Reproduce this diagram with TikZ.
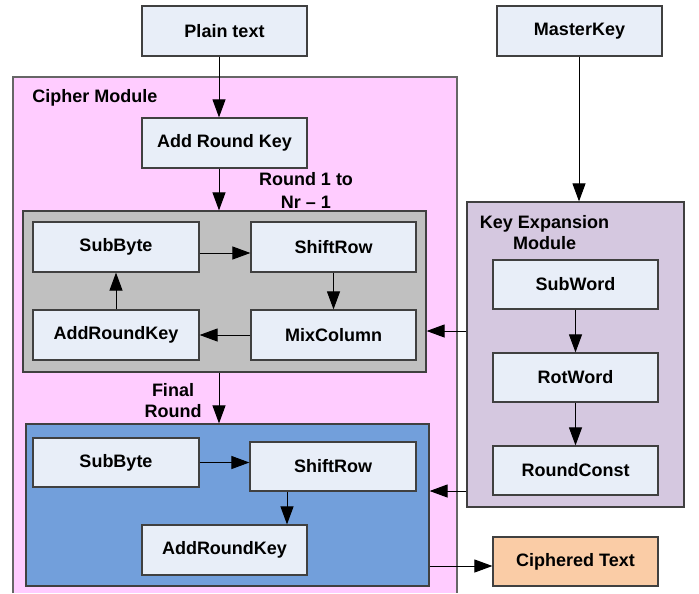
\documentclass[tikz,border=0pt]{standalone}
\usepackage{fontspec}
\setmainfont{Liberation Sans}
\usetikzlibrary{arrows.meta}
\definecolor{pinkbg}{HTML}{FFCCFF}
\definecolor{graybg}{HTML}{C0C0C0}
\definecolor{bluebg}{HTML}{729FDB}
\definecolor{boxbg}{HTML}{E8EEF8}
\definecolor{keybg}{HTML}{D5C8E0}
\definecolor{peach}{HTML}{FACCA6}
\definecolor{edge}{HTML}{404040}
\tikzset{
  every node/.style={font=\fontsize{9}{10.5}\selectfont\bfseries},
  box/.style={draw=edge, line width=0.6pt, fill=boxbg, rectangle, inner sep=0pt,
    minimum width=82.5pt, minimum height=25pt},
  group/.style={draw=edge, line width=0.6pt, rectangle, inner sep=0pt},
  lbl/.style={align=center, inner sep=0pt},
  arr/.style={line width=0.5pt, -{Triangle[length=9pt,width=6.5pt]}},
}
\begin{document}
\begin{tikzpicture}[x=0.5pt,y=-0.5pt]
\useasboundingbox (0,0) rectangle (699,593);
% pink cipher module
\fill[pinkbg] (13,593) -- (13,77) -- (457,77) -- (457,593) -- cycle;
\draw[draw=gray!80!black, line width=0.8pt] (13,593) -- (13,77) -- (457,77) -- (457,593);
\node[lbl, anchor=west] (cm) at (32,98) {Cipher Module};

% top inputs
\node[box] (plain) at (224.5,31) {Plain text};
\node[box] (master) at (579.5,31) {MasterKey};
\node[box] (ark) at (224.5,143) {Add Round Key};

% round group
\node[group, fill=graybg, minimum width=201.5pt, minimum height=80.5pt] (gray) at (224.5,291.5) {};
\node[box, minimum width=83pt] (sb1) at (116,247) {SubByte};
\node[box] (sr1) at (333.5,247) {ShiftRow};
\node[box, minimum width=83pt] (ark1) at (116,335) {AddRoundKey};
\node[box] (mc1) at (333.5,335) {MixColumn};
\node[lbl, font=\fontsize{9}{11.5}\selectfont\bfseries] (rl) at (306,190.5) {Round 1 to\\Nr – 1};

% final round group
\node[lbl] (fl) at (173,400.5) {Final\\Round};
\node[group, fill=bluebg, minimum width=201.5pt, minimum height=81pt] (blue) at (227.5,505) {};
\node[box, minimum width=83pt, minimum height=24.5pt] (sb2) at (116,462.5) {SubByte};
\node[box, minimum width=83pt, minimum height=24.5pt] (sr2) at (333,466.5) {ShiftRow};
\node[box] (ark2) at (224.5,550) {AddRoundKey};

% key expansion
\node[group, fill=keybg, minimum width=108.5pt, minimum height=152.5pt] (kexp) at (575.5,354.5) {};
\node[lbl] (kl) at (544.5,232.5) {Key Expansion\\Module};
\node[box, minimum height=24.5pt] (subw) at (575.5,284.5) {SubWord};
\node[box, minimum height=24.5pt] (rotw) at (575.5,377.5) {RotWord};
\node[box, minimum height=24.5pt] (rcon) at (575.5,470.5) {RoundConst};

% output
\node[box, fill=peach, minimum height=24.5pt] (ciph) at (575.5,561.5) {Ciphered Text};

% helper coordinates
\coordinate (cx) at (219,0);
\coordinate (y1) at (0,253);
\coordinate (y2) at (0,331);
\coordinate (y3) at (0,491);
\coordinate (y4) at (0,566);
\coordinate (x2) at (287,0);
\coordinate (kx) at (579,0);

% connectors
\draw[arr] (plain.south -| cx) -- (ark.north -| cx);
\draw[arr] (ark.south -| cx) -- (gray.north -| cx);
\draw[arr] (gray.south -| cx) -- (blue.north -| cx);
\draw[arr] (master.south -| kx) -- (kexp.north -| kx);

\draw[arr] (sb1.east |- y1) -- (sr1.west |- y1);
\draw[arr] (sr1.south) -- (mc1.north);
\draw[arr] (mc1.west) -- (ark1.east);
\draw[arr] (ark1.north) -- (sb1.south);

\draw[arr] (sb2.east) -- (sr2.west |- sb2.east);
\draw[arr] (sr2.south -| x2) -- (ark2.north -| x2);

\draw[arr] (subw.south) -- (rotw.north);
\draw[arr] (rotw.south) -- (rcon.north);

\draw[arr] (kexp.west |- y2) -- (gray.east |- y2);
\draw[arr] (kexp.west |- y3) -- (blue.east |- y3);
\draw[arr] (blue.east |- y4) -- (ciph.west |- y4);
\end{tikzpicture}
\end{document}
